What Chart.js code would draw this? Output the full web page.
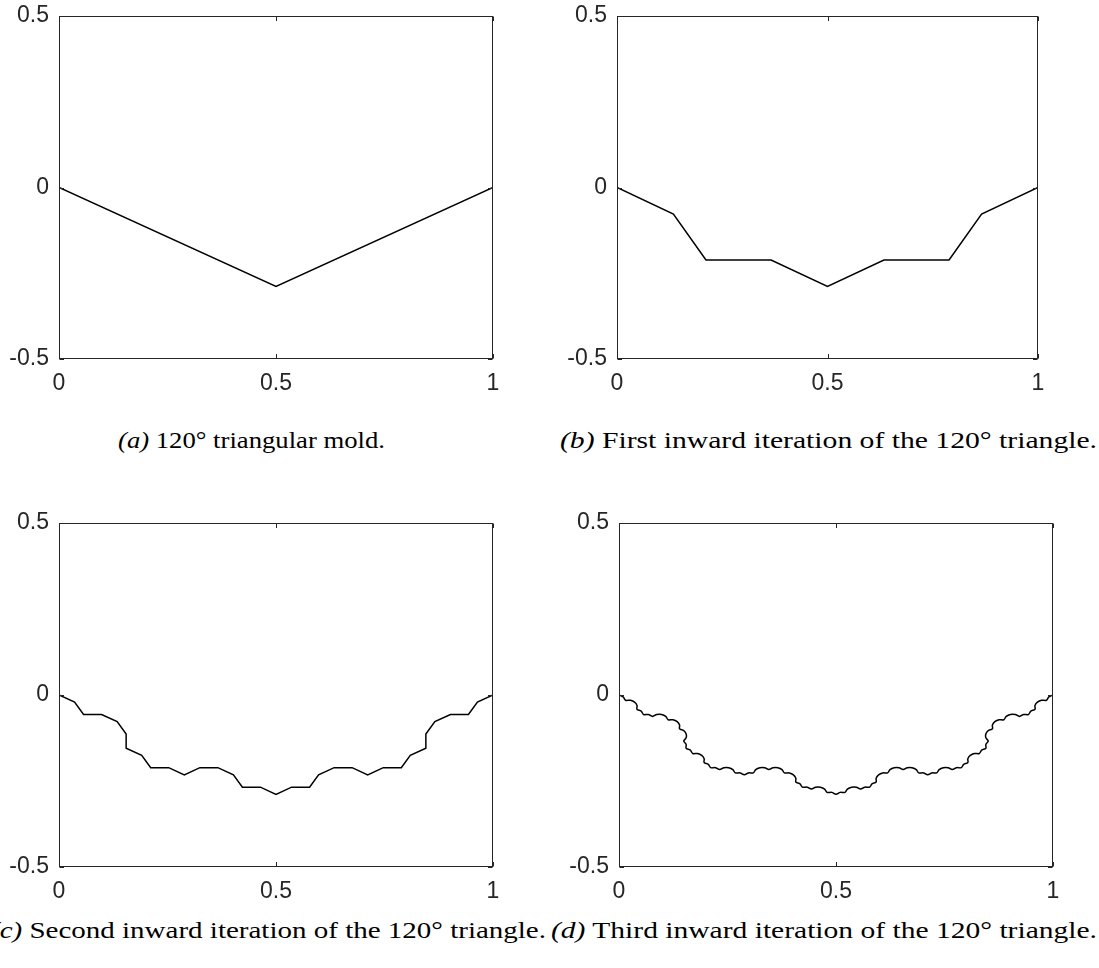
<!DOCTYPE html>
<html>
<head>
<meta charset="utf-8">
<script src="https://cdn.jsdelivr.net/npm/chart.js@4.4.0/dist/chart.umd.min.js"></script>
<style>
  html, body { margin: 0; padding: 0; background: #fff; }
  body { width: 1099px; height: 968px; position: relative; overflow: hidden; }
  .panel { position: absolute; }
  .caption {
    position: absolute; white-space: nowrap; line-height: 24px;
    font-family: "Liberation Serif", "DejaVu Serif", serif; font-size: 24px; color: #000;
    transform-origin: 0 0;
  }
</style>
</head>
<body>
<script>
// tick values and labels (same for all four panels)
const xTicks = [0, 0.5, 1];
const yTicks = [-0.5, 0, 0.5];
const xTickLabels = ['0', '0.5', '1'];
const yTickLabels = ['-0.5', '0', '0.5'];

// (a) 120 degree triangular mold
const moldX = [0, 0.5, 1];
const moldY = [0, -0.2887, 0];

// (b) first inward iteration
const iter1X = [0, 0.1340, 0.2113, 0.3660, 0.5, 0.6340, 0.7887, 0.8660, 1];
const iter1Y = [0, -0.0774, -0.2113, -0.2113, -0.2887, -0.2113, -0.2113, -0.0774, 0];

// (c) second inward iteration
const iter2X = [0, 0.0359, 0.0566, 0.0981, 0.1340, 0.1547, 0.1547, 0.1906, 0.2113, 0.2528, 0.2887,
  0.3246, 0.3660, 0.4019, 0.4226, 0.4641, 0.5, 0.5359, 0.5774, 0.5981, 0.6340, 0.6754, 0.7113,
  0.7472, 0.7887, 0.8094, 0.8453, 0.8453, 0.8660, 0.9019, 0.9434, 0.9641, 1];
const iter2Y = [0, -0.0207, -0.0566, -0.0566, -0.0774, -0.1133, -0.1547, -0.1754, -0.2113, -0.2113, -0.2321,
  -0.2113, -0.2113, -0.2321, -0.2679, -0.2679, -0.2887, -0.2679, -0.2679, -0.2321, -0.2113, -0.2113, -0.2321,
  -0.2113, -0.2113, -0.1754, -0.1547, -0.1133, -0.0774, -0.0566, -0.0566, -0.0207, 0];

// (d) third inward iteration
const iter3X = [0, 0.0096, 0.0152, 0.0263, 0.0359, 0.0415, 0.0415, 0.0511, 0.0566, 0.0677, 0.0773, 0.0870,
  0.0981, 0.1077, 0.1133, 0.1244, 0.1340, 0.1396, 0.1396, 0.1492, 0.1547, 0.1547, 0.1492, 0.1547,
  0.1547, 0.1643, 0.1699, 0.1810, 0.1906, 0.1962, 0.1962, 0.2058, 0.2113, 0.2224, 0.2320, 0.2417,
  0.2528, 0.2624, 0.2680, 0.2791, 0.2887, 0.2983, 0.3094, 0.3150, 0.3246, 0.3357, 0.3453, 0.3549,
  0.3660, 0.3756, 0.3812, 0.3923, 0.4019, 0.4075, 0.4075, 0.4171, 0.4226, 0.4337, 0.4434, 0.4530,
  0.4641, 0.4737, 0.4793, 0.4904, 0.5,
  0.5096, 0.5207, 0.5263, 0.5359, 0.5470, 0.5566, 0.5663, 0.5774, 0.5829, 0.5925, 0.5925, 0.5981,
  0.6077, 0.6188, 0.6244, 0.6340, 0.6451, 0.6547, 0.6643, 0.6754, 0.6850, 0.6906, 0.7017, 0.7113,
  0.7209, 0.7320, 0.7376, 0.7472, 0.7583, 0.7680, 0.7776, 0.7887, 0.7942, 0.8038, 0.8038, 0.8094,
  0.8190, 0.8301, 0.8357, 0.8453, 0.8453, 0.8508, 0.8453, 0.8453, 0.8508, 0.8604, 0.8604, 0.8660,
  0.8756, 0.8867, 0.8923, 0.9019, 0.9130, 0.9227, 0.9323, 0.9434, 0.9489, 0.9585, 0.9585, 0.9641,
  0.9737, 0.9848, 0.9904, 1];
const iter3Y = [0, -0.0056, -0.0152, -0.0152, -0.0207, -0.0303, -0.0414, -0.0470, -0.0566, -0.0566, -0.0622, -0.0566,
  -0.0566, -0.0622, -0.0718, -0.0718, -0.0774, -0.0870, -0.0981, -0.1037, -0.1133, -0.1244, -0.1340, -0.1436,
  -0.1547, -0.1603, -0.1699, -0.1699, -0.1754, -0.1850, -0.1961, -0.2017, -0.2113, -0.2113, -0.2169, -0.2113,
  -0.2113, -0.2169, -0.2265, -0.2265, -0.2321, -0.2265, -0.2265, -0.2169, -0.2113, -0.2113, -0.2169, -0.2113,
  -0.2113, -0.2169, -0.2265, -0.2265, -0.2321, -0.2417, -0.2528, -0.2584, -0.2679, -0.2679, -0.2735, -0.2679,
  -0.2679, -0.2735, -0.2831, -0.2831, -0.2887,
  -0.2831, -0.2831, -0.2735, -0.2679, -0.2679, -0.2735, -0.2679, -0.2679, -0.2584, -0.2528, -0.2417, -0.2321,
  -0.2265, -0.2265, -0.2169, -0.2113, -0.2113, -0.2169, -0.2113, -0.2113, -0.2169, -0.2265, -0.2265, -0.2321,
  -0.2265, -0.2265, -0.2169, -0.2113, -0.2113, -0.2169, -0.2113, -0.2113, -0.2017, -0.1961, -0.1850, -0.1754,
  -0.1699, -0.1699, -0.1603, -0.1547, -0.1436, -0.1340, -0.1244, -0.1133, -0.1037, -0.0981, -0.0870, -0.0774,
  -0.0718, -0.0718, -0.0622, -0.0566, -0.0566, -0.0622, -0.0566, -0.0566, -0.0470, -0.0414, -0.0303, -0.0207,
  -0.0152, -0.0152, -0.0056, 0];

// panel plot boxes (page pixels) and their captions
const panels = [
  { xs: moldX,  ys: moldY,  tension: 0, left: 59,  top: 16,  right: 493,  bottom: 359,
    tag: '(a)', text: ' 120° triangular mold.', cx: 251, cy: 428, cw: 267 },
  { xs: iter1X, ys: iter1Y, tension: 0, left: 617, top: 16,  right: 1038, bottom: 359,
    tag: '(b)', text: ' First inward iteration of the 120° triangle.', cx: 828, cy: 428, cw: 537 },
  { xs: iter2X, ys: iter2Y, tension: 0, left: 59,  top: 523, right: 493,  bottom: 867,
    tag: '(c)', text: ' Second inward iteration of the 120° triangle.', cx: 268, cy: 918, cw: 556 },
  { xs: iter3X, ys: iter3Y, tension: 0.35, left: 619, top: 523, right: 1053, bottom: 867,
    tag: '(d)', text: ' Third inward iteration of the 120° triangle.', cx: 824, cy: 918, cw: 546 }
];

const Y_AXIS_W = 60, X_AXIS_H = 50, PAD_TOP = 16, PAD_RIGHT = 20;
const axisColor = '#262626';
const tickFont = { family: '"Liberation Sans", Arial, sans-serif', size: 23 };

// box around the axes with short inward ticks, like matlab
const framePlugin = {
  id: 'frame',
  afterDraw(chart) {
    const { ctx, chartArea: a } = chart;
    const sx = chart.scales.x, sy = chart.scales.y;
    const L = Math.round(a.left) + 0.5, R = Math.round(a.right) - 0.5;
    const T = Math.round(a.top) + 0.5, B = Math.round(a.bottom) - 0.5;
    ctx.save();
    ctx.strokeStyle = axisColor;
    ctx.lineWidth = 1;
    ctx.strokeRect(L, T, R - L, B - T);
    ctx.beginPath();
    xTicks.forEach(v => {
      const px = Math.round(sx.getPixelForValue(v)) + 0.5;
      ctx.moveTo(px, B); ctx.lineTo(px, B - 4.5);
      ctx.moveTo(px, T); ctx.lineTo(px, T + 4.5);
    });
    yTicks.forEach(v => {
      const py = Math.round(sy.getPixelForValue(v)) + 0.5;
      ctx.moveTo(L, py); ctx.lineTo(L + 4.5, py);
      ctx.moveTo(R, py); ctx.lineTo(R - 4.5, py);
    });
    ctx.stroke();
    ctx.restore();
  }
};

// keep the tick labels from pushing the plot box around
function noLabelPadding(s) {
  s.paddingTop = 0; s.paddingBottom = 0; s.paddingLeft = 0; s.paddingRight = 0;
}

panels.forEach(p => {
  const w = p.right - p.left, h = p.bottom - p.top;
  const cw = Y_AXIS_W + w + PAD_RIGHT, ch = PAD_TOP + h + X_AXIS_H;

  const div = document.createElement('div');
  div.className = 'panel';
  div.style.left = (p.left - Y_AXIS_W) + 'px';
  div.style.top = (p.top - PAD_TOP) + 'px';
  const canvas = document.createElement('canvas');
  canvas.width = cw; canvas.height = ch;
  canvas.style.width = cw + 'px'; canvas.style.height = ch + 'px';
  div.appendChild(canvas);
  document.body.appendChild(div);

  const points = p.xs.map((x, i) => ({ x: x, y: p.ys[i] }));

  new Chart(canvas, {
    type: 'scatter',
    data: {
      datasets: [{
        data: points,
        showLine: true,
        borderColor: '#000',
        borderWidth: 1.5,
        pointRadius: 0,
        tension: p.tension
      }]
    },
    options: {
      responsive: false,
      animation: false,
      layout: { padding: { left: 0, top: PAD_TOP, right: PAD_RIGHT, bottom: 0 } },
      plugins: { legend: { display: false }, tooltip: { enabled: false } },
      scales: {
        x: {
          type: 'linear', min: 0, max: 1,
          afterBuildTicks: s => { s.ticks = xTicks.map(v => ({ value: v })); },
          afterFit: s => { s.height = X_AXIS_H; noLabelPadding(s); },
          grid: { display: false, drawTicks: false },
          border: { display: false },
          ticks: {
            padding: 11, color: axisColor, font: tickFont, maxRotation: 0, autoSkip: false,
            callback: (v, i) => xTickLabels[i]
          }
        },
        y: {
          type: 'linear', min: -0.5, max: 0.5,
          afterBuildTicks: s => { s.ticks = yTicks.map(v => ({ value: v })); },
          afterFit: s => { s.width = Y_AXIS_W; noLabelPadding(s); },
          grid: { display: false, drawTicks: false },
          border: { display: false },
          ticks: {
            padding: 10, color: axisColor, font: tickFont, autoSkip: false,
            callback: (v, i) => yTickLabels[i]
          }
        }
      }
    },
    plugins: [framePlugin]
  });

  // caption under the panel (latex-like subcaption)
  const cap = document.createElement('div');
  cap.className = 'caption';
  const tag = document.createElement('i');
  tag.textContent = p.tag;
  cap.appendChild(tag);
  cap.appendChild(document.createTextNode(p.text));
  document.body.appendChild(cap);
  const natural = cap.getBoundingClientRect().width;
  const k = p.cw / natural;
  cap.style.left = (p.cx - p.cw / 2) + 'px';
  cap.style.top = p.cy + 'px';
  cap.style.transform = 'scaleX(' + k + ')';
});
</script>
</body>
</html>
